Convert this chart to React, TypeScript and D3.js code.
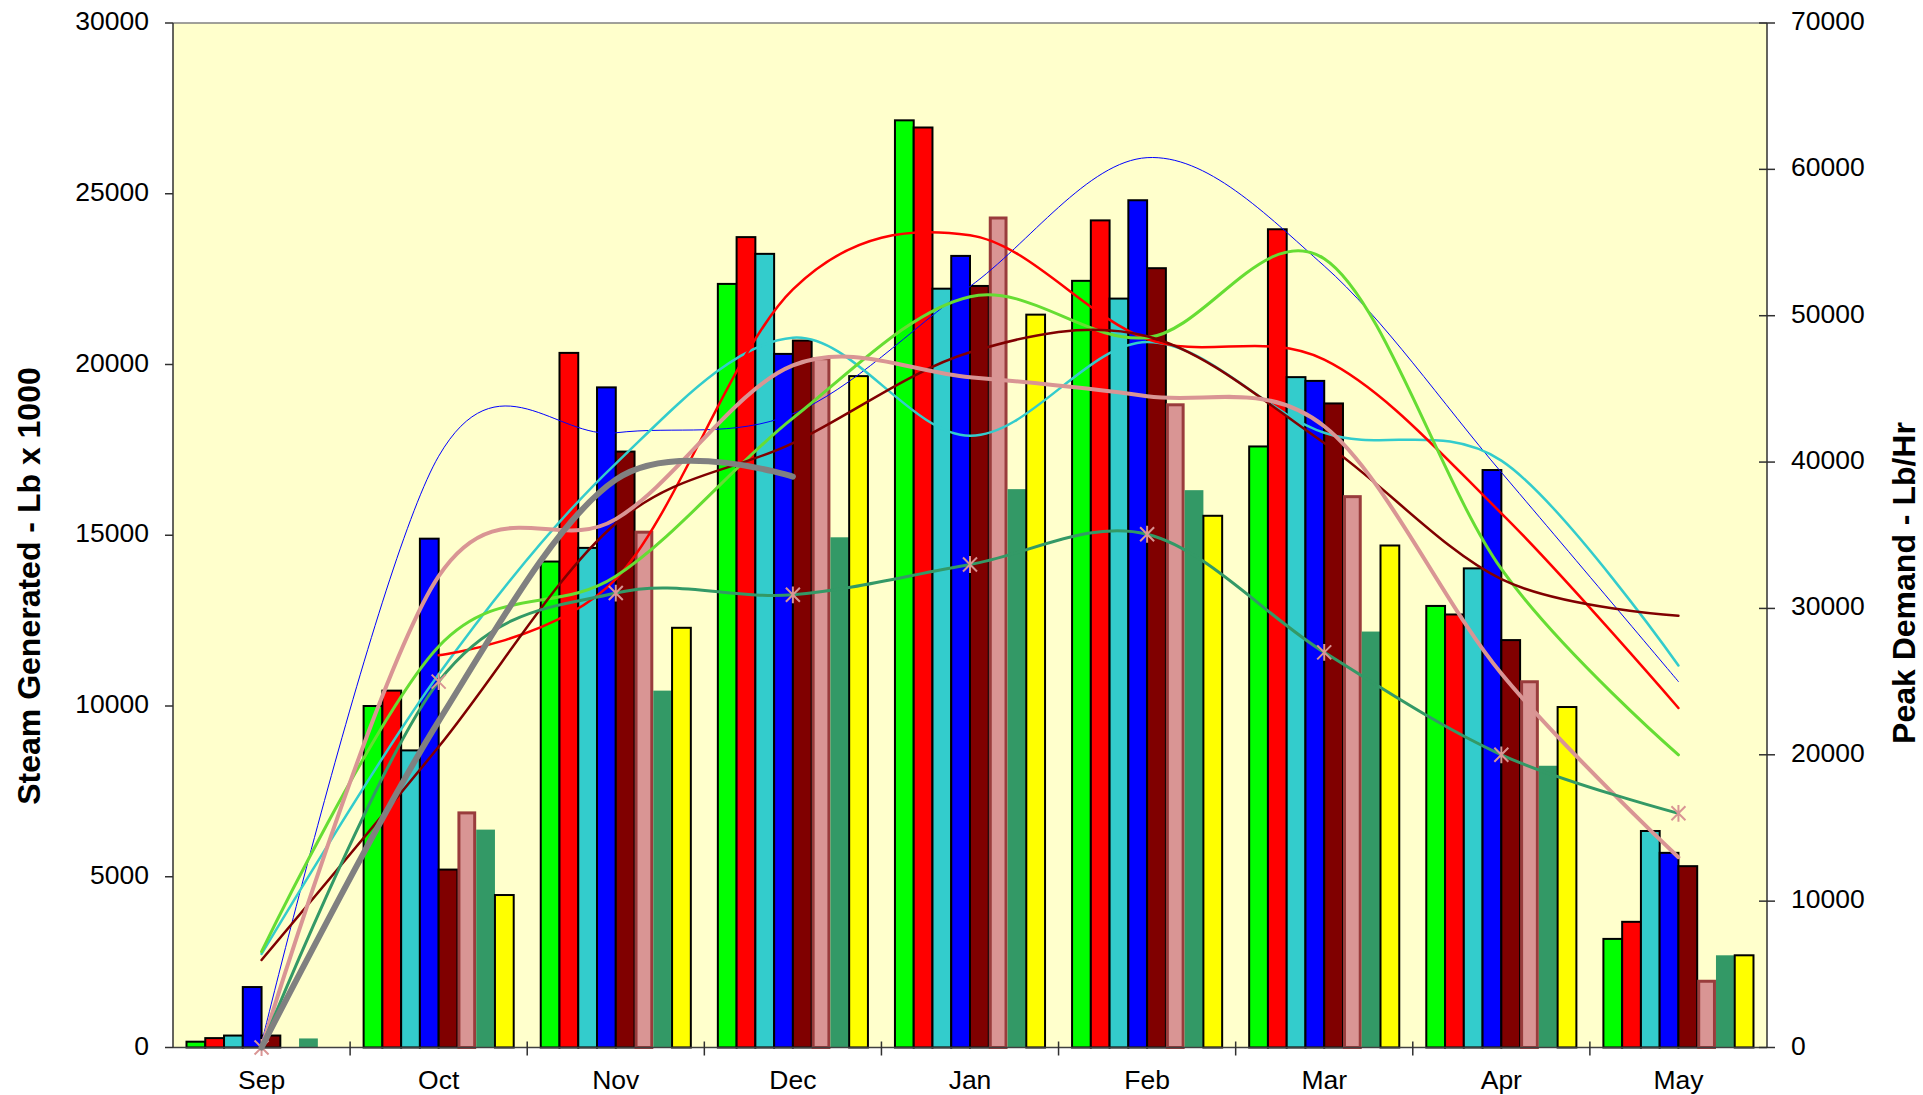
import React, { useEffect } from "react";
import * as d3 from "d3";

const months = ["Sep", "Oct", "Nov", "Dec", "Jan", "Feb", "Mar", "Apr", "May"];
const leftTicks = [0, 5000, 10000, 15000, 20000, 25000, 30000];
const rightTicks = [0, 10000, 20000, 30000, 40000, 50000, 60000, 70000];

// Bar series: Steam generated (Lb x 1000), left axis
const barGreen = [170, 10000, 14230, 22360, 27150, 22450, 17600, 12930, 3180];
const barRed = [275, 10450, 20340, 23730, 26940, 24220, 23960, 12680, 3680];
const barCyan = [350, 8700, 14630, 23240, 22220, 21930, 19630, 14030, 6340];
const barBlue = [1770, 14900, 19330, 20310, 23180, 24810, 19520, 16910, 5700];
const barMaroon = [350, 5210, 17450, 20700, 22300, 22820, 18860, 11930, 5310];
const barPink = [null, 6870, 15090, 20170, 24290, 18820, 16130, 10710, 1940];
const barSeaGreen = [265, 6380, 10450, 14940, 16350, 16320, 12180, 8250, 2700];
const barYellow = [null, 4465, 12290, 19660, 21460, 15570, 14700, 9970, 2700];

// Line series: Peak demand (Lb/Hr), right axis
const lineBlue = [300, 40400, 42000, 43300, 52000, 60800, 53400, 39300, 25000];
const lineCyan = [6390, 25500, 39900, 48500, 41800, 48200, 42000, 40100, 26100];
const lineRed = [null, 26800, 32000, 51800, 55500, 48400, 47000, 36500, 23200];
const lineLightGreen = [6550, 27400, 32200, 43000, 51300, 48500, 53900, 32700, 20000];
const lineMaroon = [5980, 20550, 35800, 41300, 47500, 48600, 41300, 32000, 29500];
const linePink = [0, 32200, 36100, 46600, 45800, 44500, 42450, 25550, 13000];
const lineSeaGreen = [0, 25000, 31050, 30930, 33000, 35070, 27000, 20000, 16000];
const lineGray = [0, 22300, 38800, 39000, null, null, null, null, null];

const barSeries = [
  { key: "b1", values: barGreen, fill: "#00FF00", stroke: "#000000", sw: 2 },
  { key: "b2", values: barRed, fill: "#FF0000", stroke: "#000000", sw: 2 },
  { key: "b3", values: barCyan, fill: "#33CCCC", stroke: "#000000", sw: 2 },
  { key: "b4", values: barBlue, fill: "#0000FF", stroke: "#000000", sw: 2 },
  { key: "b5", values: barMaroon, fill: "#800000", stroke: "#000000", sw: 2 },
  { key: "b6", values: barPink, fill: "#D99594", stroke: "#993C3C", sw: 3 },
  { key: "b7", values: barSeaGreen, fill: "#339966", stroke: "none", sw: 0 },
  { key: "b8", values: barYellow, fill: "#FFFF00", stroke: "#000000", sw: 2 },
];

const lineSeries = [
  { key: "l1", values: lineBlue, color: "#0000FF", width: 1 },
  { key: "l2", values: lineCyan, color: "#33CCCC", width: 2.5 },
  { key: "l3", values: lineRed, color: "#FF0000", width: 2.5 },
  { key: "l4", values: lineLightGreen, color: "#66DD33", width: 3 },
  { key: "l5", values: lineMaroon, color: "#800000", width: 2.5 },
  { key: "l6", values: linePink, color: "#D99594", width: 4 },
  { key: "l7", values: lineSeaGreen, color: "#339966", width: 3, marker: true },
  { key: "l8", values: lineGray, color: "#808080", width: 6 },
];

const W = 1923;
const H = 1095;
const left = 173;
const right = 1767;
const top = 23;
const bottom = 1047.5;
const FONT = "'Liberation Sans', Arial, sans-serif";

export default function App() {
  useEffect(() => {
    document.body.style.margin = "0";
    document.body.style.overflow = "hidden";
  }, []);

  const x = d3.scaleBand<string>().domain(months).range([left, right]).padding(0);
  const inner = d3
    .scaleBand<string>()
    .domain(barSeries.map((s) => s.key))
    .range([0, x.bandwidth()])
    .paddingInner(0)
    .paddingOuter(0.72);
  const yL = d3.scaleLinear().domain([0, 30000]).range([bottom, top]);
  const yR = d3.scaleLinear().domain([0, 70000]).range([bottom, top]);
  const cx = (m: string) => (x(m) as number) + x.bandwidth() / 2;

  const lineGen = d3
    .line<number | null>()
    .defined((d) => d !== null)
    .x((_, i) => cx(months[i]))
    .y((d) => yR(d as number))
    .curve(d3.curveCatmullRom.alpha(0));

  const s = 7;
  const starPath = `M${-s},${-s}L${s},${s}M${-s},${s}L${s},${-s}M0,${-s * 1.2}L0,${s * 1.2}`;

  return (
    <svg width={W} height={H} style={{ position: "fixed", left: 0, top: 0, background: "#fff" }}>
      <rect x={left} y={top} width={right - left} height={bottom - top} fill="#FFFFCC" />
      <line x1={left} x2={right} y1={top} y2={top} stroke="#808080" strokeWidth={1.5} />

      {/* Bars */}
      {barSeries.map((ser) => (
        <g key={ser.key}>
          {ser.values.map((v, i) => {
            if (v === null || v === 0) return null;
            const m = months[i];
            const bx = (x(m) as number) + (inner(ser.key) as number);
            const bw = inner.bandwidth();
            const by = yL(v);
            const inset = ser.sw / 2;
            return (
              <rect
                key={m}
                x={bx + (ser.sw > 2 ? inset : 0)}
                y={by}
                width={bw - (ser.sw > 2 ? ser.sw : 0)}
                height={bottom - by}
                fill={ser.fill}
                stroke={ser.stroke}
                strokeWidth={ser.sw}
              />
            );
          })}
        </g>
      ))}

      {/* Axes lines */}
      <line x1={left} x2={right} y1={bottom} y2={bottom} stroke="#404040" strokeWidth={1.5} />
      <line x1={left} x2={left} y1={top} y2={bottom} stroke="#303030" strokeWidth={1.5} />
      <line x1={right} x2={right} y1={top} y2={bottom} stroke="#303030" strokeWidth={1.5} />

      {/* Lines */}
      {lineSeries.map((ser) => (
        <g key={ser.key}>
          <path
            d={lineGen(ser.values) || ""}
            fill="none"
            stroke={ser.color}
            strokeWidth={ser.width}
            strokeLinecap="round"
            strokeLinejoin="round"
          />
          {ser.marker &&
            ser.values.map((v, i) =>
              v === null ? null : (
                <path
                  key={i}
                  d={starPath}
                  transform={`translate(${cx(months[i])},${yR(v)})`}
                  stroke="#D99594"
                  strokeWidth={2}
                  fill="none"
                />
              )
            )}
        </g>
      ))}

      {/* Left axis ticks */}
      {leftTicks.map((t) => (
        <g key={"l" + t}>
          <line x1={left - 8} x2={left} y1={yL(t)} y2={yL(t)} stroke="#303030" strokeWidth={1.5} />
          <text
            x={149}
            y={yL(t)}
            textAnchor="end"
            dominantBaseline="middle"
            fontFamily={FONT}
            fontSize={26.5}
            fill="#000"
          >
            {t}
          </text>
        </g>
      ))}

      {/* Right axis ticks */}
      {rightTicks.map((t) => (
        <g key={"r" + t}>
          <line x1={right - 8} x2={right + 8} y1={yR(t)} y2={yR(t)} stroke="#303030" strokeWidth={1.5} />
          <text
            x={1791}
            y={yR(t)}
            textAnchor="start"
            dominantBaseline="middle"
            fontFamily={FONT}
            fontSize={26.5}
            fill="#000"
          >
            {t}
          </text>
        </g>
      ))}

      {/* Category ticks and labels */}
      {months.map((m, i) => (
        <g key={m}>
          {i > 0 && (
            <line
              x1={x(m) as number}
              x2={x(m) as number}
              y1={bottom - 6}
              y2={bottom + 8}
              stroke="#303030"
              strokeWidth={1.5}
            />
          )}
          <text x={cx(m)} y={1089} textAnchor="middle" fontFamily={FONT} fontSize={26.5} fill="#000">
            {m}
          </text>
        </g>
      ))}

      {/* Axis titles */}
      <text
        transform={`translate(40,586) rotate(-90)`}
        textAnchor="middle"
        fontFamily={FONT}
        fontSize={32}
        fontWeight="bold"
        fill="#000"
      >
        Steam Generated - Lb x 1000
      </text>
      <text
        transform={`translate(1915,583) rotate(-90)`}
        textAnchor="middle"
        fontFamily={FONT}
        fontSize={32}
        fontWeight="bold"
        fill="#000"
      >
        Peak Demand - Lb/Hr
      </text>
    </svg>
  );
}
